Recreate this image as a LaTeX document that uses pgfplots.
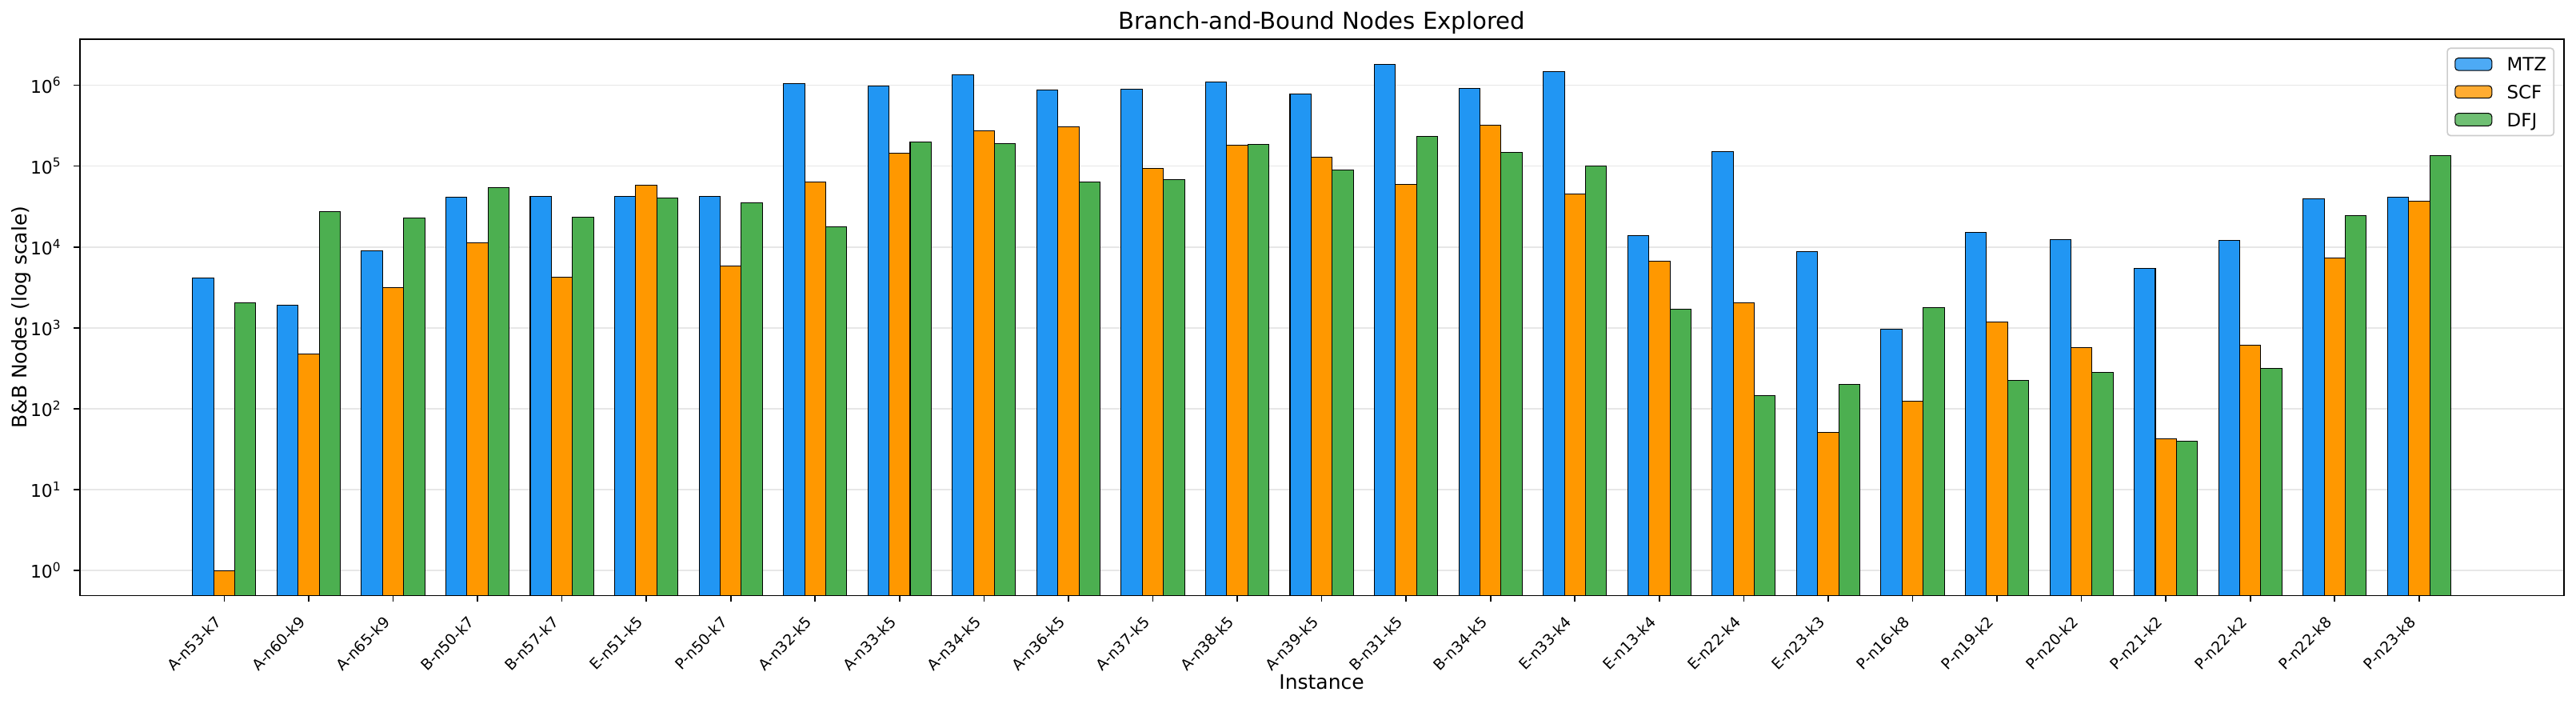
\documentclass[border=0pt]{standalone}
\usepackage{pgfplots}
\usepackage{pgfplotstable}
\pgfplotsset{compat=1.18}
\usepackage{fontspec}
\setmainfont{DejaVu Sans}
\definecolor{mtz}{HTML}{2196F3}
\definecolor{scf}{HTML}{FF9800}
\definecolor{dfj}{HTML}{4CAF50}
\definecolor{gridc}{HTML}{E7E7E7}
\definecolor{legc}{HTML}{CCCCCC}
\pgfplotstableread{
i mtz scf dfj
0 4160 1 2032
1 1906 473 27560
2 8950 3178 22750
3 41500 11270 54250
4 42000 4210 23350
5 42000 58600 40450
6 42000 5800 35150
7 1052000 64100 17850
8 987000 145200 200000
9 1342000 275000 189700
10 869000 305000 64100
11 891000 94000 68300
12 1094000 182700 185000
13 784000 129400 89300
14 1800000 59300 233000
15 914000 321000 147000
16 1466000 45400 100000
17 13820 6670 1700
18 150800 2032 146
19 8840 51.2 201
20 969 125 1787
21 15100 1188 226
22 12330 574 284
23 5440 42.8 39.7
24 12000 611 315
25 39400 7300 24560
26 41500 37000 134400
}\data
\begin{document}
\begin{tikzpicture}
\begin{axis}[
  scale only axis,
  width=1490.9pt, height=334.0pt,
  xmin=-1.7125, xmax=27.7125,
  ymode=log, log basis y=10,
  ymin=0.489, ymax=3.73e6,
  log origin y=infty,
  axis line style={line width=0.9pt, black},
  tick align=outside,
  xtick pos=bottom, ytick pos=left,
  major tick length=3.5pt, minor tick length=2pt,
  major tick style={line width=0.8pt, black},
  minor tick style={line width=0.6pt, black},
  xtick={0,...,26},
  xticklabels={A-n53-k7,A-n60-k9,A-n65-k9,B-n50-k7,B-n57-k7,E-n51-k5,P-n50-k7,A-n32-k5,A-n33-k5,A-n34-k5,A-n36-k5,A-n37-k5,A-n38-k5,A-n39-k5,B-n31-k5,B-n34-k5,E-n33-k4,E-n13-k4,E-n22-k4,E-n23-k3,P-n16-k8,P-n19-k2,P-n20-k2,P-n21-k2,P-n22-k2,P-n22-k8,P-n23-k8},
  xticklabel style={font=\fontsize{9}{10.5}\selectfont, xshift=-3.6pt, yshift=-10.7pt, rotate=45, anchor=east, inner sep=0pt},
  ytick={1,10,100,1000,10000,100000,1000000},
  yticklabels={10\textsuperscript{0},10\textsuperscript{1},10\textsuperscript{2},10\textsuperscript{3},10\textsuperscript{4},10\textsuperscript{5},10\textsuperscript{6}},
  yticklabel style={font=\fontsize{10.5}{12}\selectfont, anchor=east, inner sep=0pt, xshift=-7.3pt},
  ymajorgrids,
  major grid style={line width=0.8pt, gridc},
  title={Branch-and-Bound Nodes Explored},
  every axis title/.style={font=\fontsize{14}{16}\selectfont, at={(axis description cs:0.5,1.01766)}, anchor=base, inner sep=0pt},
  xlabel={Instance},
  xlabel style={font=\fontsize{12}{14}\selectfont, at={(axis description cs:0.5,-0.1545)}, anchor=center, inner sep=0pt},
  ylabel={B\&B Nodes (log scale)},
  ylabel style={font=\fontsize{12}{14}\selectfont, at={(axis description cs:-0.02348,0.5)}, anchor=center, inner sep=0pt},
  legend style={at={(axis description cs:0.99631,0.98473)}, anchor=north east,
    draw=legc, line width=0.8pt, rounded corners=2pt, fill=white, fill opacity=0.8, text opacity=1,
    font=\fontsize{11}{13}\selectfont, inner xsep=4.4pt, inner ysep=5.5pt,
    row sep=8.3pt, column sep=8.8pt,
    nodes={inner sep=0pt, text height=8.3pt, text depth=0pt, anchor=west}},
  legend cell align=left,
  legend image code/.code={\draw[#1, line width=0.5pt, draw=black] (0pt,-3.75pt) rectangle (22.1pt,3.75pt);},
]
\addplot[ybar, bar width=0.25, bar shift=-0.25, fill=mtz, draw=black, line width=0.5pt] table[x=i, y=mtz] {\data};
\addlegendentry{MTZ}
\addplot[ybar, bar width=0.25, bar shift=0, fill=scf, draw=black, line width=0.5pt] table[x=i, y=scf] {\data};
\addlegendentry{SCF}
\addplot[ybar, bar width=0.25, bar shift=0.25, fill=dfj, draw=black, line width=0.5pt] table[x=i, y=dfj] {\data};
\addlegendentry{DFJ}
\end{axis}
\pgfresetboundingbox
\path[use as bounding box] ([xshift=-47.8pt,yshift=-64.9pt]current axis.south west) rectangle ([xshift=7.4pt,yshift=23.4pt]current axis.north east);
\end{tikzpicture}
\end{document}
